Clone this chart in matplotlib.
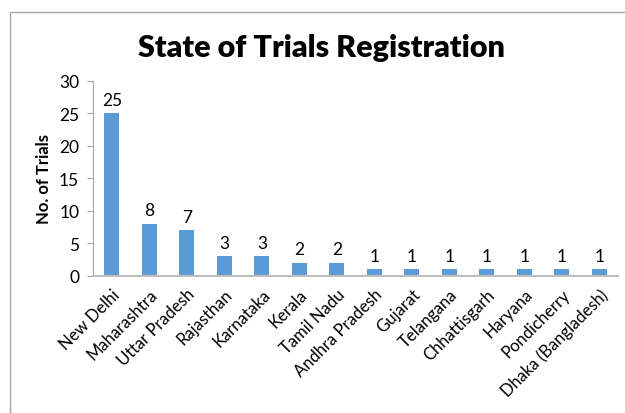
import matplotlib.pyplot as plt
from matplotlib.patches import Rectangle

# datos
states = ["New Delhi", "Maharashtra", "Uttar Pradesh", "Rajasthan", "Karnataka",
          "Kerala", "Tamil Nadu", "Andhra Pradesh", "Gujarat", "Telangana",
          "Chhattisgarh", "Haryana", "Pondicherry", "Dhaka (Bangladesh)"]
trials = [25, 8, 7, 3, 3, 2, 2, 1, 1, 1, 1, 1, 1, 1]

plt.rcParams['font.family'] = ['Lato', 'DejaVu Sans']

fig = plt.figure(figsize=(6.25, 4.14), dpi=100)
ax = fig.add_axes([0.149, 0.331, 0.84, 0.471])

# borde del grafico
fig.patches.append(Rectangle((10 / 625, -0.1), 1.2, 1 - 13 / 414 + 0.1,
                             transform=fig.transFigure, fill=False,
                             edgecolor="#A6A6A6", linewidth=1))

x = range(len(states))
bars = ax.bar(x, trials, width=0.4, color="#5B9BD5")
for b, v in zip(bars, trials):
    ax.text(b.get_x() + b.get_width() / 2, v + 0.9, str(v),
            ha="center", va="bottom", fontsize=12.5)

ax.set_xlim(-0.5, len(states) - 0.5)
ax.set_ylim(0, 30)
ax.set_yticks(range(0, 31, 5))
ax.set_xticks(list(x))
ax.set_xticklabels(states, rotation=45, ha="right", rotation_mode="anchor", fontsize=12)
ax.tick_params(axis="x", length=0, pad=7)
ax.tick_params(axis="y", length=4, color="#A6A6A6", labelsize=12.5, pad=6)

ax.spines["top"].set_visible(False)
ax.spines["right"].set_visible(False)
ax.spines["left"].set_color("#A6A6A6")
ax.spines["bottom"].set_color("#BFBFBF")
ax.spines["bottom"].set_linewidth(1.5)

ax.set_ylabel("No. of Trials", fontsize=12, fontweight="bold", labelpad=5)
fig.text(0.515, 0.885, "State of Trials Registration", ha="center", va="center",
         fontsize=22, fontweight="heavy")

fig.savefig("out.png", dpi=100)
